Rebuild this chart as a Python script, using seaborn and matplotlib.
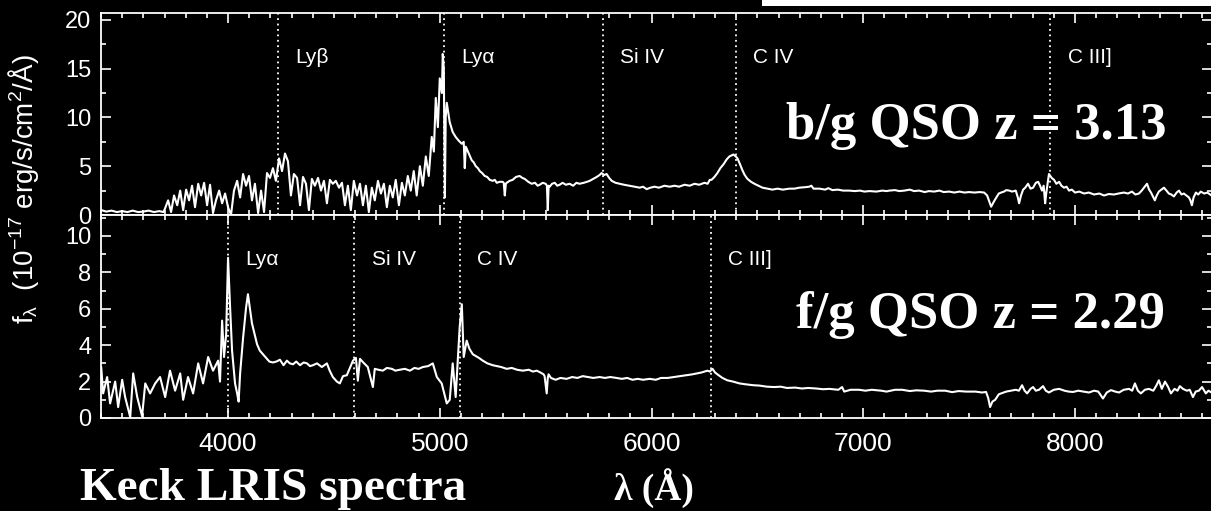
import pandas as pd
import seaborn as sns
import matplotlib.pyplot as plt
from matplotlib.patches import Rectangle
from matplotlib.ticker import MultipleLocator

# Spectrum of the background QSO (z = 3.13)
top_wave = [3401, 3425, 3450, 3475, 3500, 3525, 3550, 3575, 3600, 3625,
            3650, 3675, 3695, 3703, 3717, 3731, 3745, 3760, 3774, 3788,
            3802, 3816, 3830, 3844, 3859, 3873, 3887, 3901, 3915, 3929,
            3943, 3958, 3972, 3986, 4000, 4014, 4028, 4043, 4057, 4071,
            4085, 4099, 4113, 4127, 4142, 4156, 4170, 4184, 4198, 4212,
            4226, 4241, 4255, 4269, 4283, 4297, 4311, 4326, 4340, 4354,
            4368, 4382, 4396, 4410, 4425, 4439, 4453, 4467, 4481, 4495,
            4509, 4524, 4538, 4552, 4566, 4580, 4594, 4609, 4623, 4637,
            4651, 4665, 4679, 4693, 4708, 4722, 4736, 4750, 4764, 4778,
            4792, 4807, 4821, 4835, 4849, 4863, 4877, 4891, 4906, 4920,
            4934, 4948, 4962, 4972, 4981, 4991, 5000, 5010, 5014, 5019,
            5024, 5028, 5033, 5047, 5061, 5075, 5090, 5104, 5113, 5118,
            5123, 5137, 5151, 5160, 5170, 5180, 5189, 5200, 5212, 5224,
            5236, 5250, 5260, 5269, 5283, 5297, 5302, 5307, 5312, 5316,
            5330, 5344, 5360, 5377, 5390, 5401, 5418, 5434, 5450, 5462,
            5472, 5486, 5500, 5506, 5510, 5514, 5519, 5530, 5543, 5555,
            5566, 5580, 5595, 5613, 5630, 5645, 5660, 5680, 5695, 5708,
            5725, 5741, 5755, 5764, 5776, 5788, 5800, 5812, 5830, 5849,
            5870, 5896, 5920, 5944, 5960, 5977, 5995, 6014, 6035, 6061,
            6085, 6109, 6130, 6156, 6180, 6203, 6225, 6250, 6265, 6275,
            6283, 6297, 6311, 6325, 6340, 6355, 6368, 6387, 6398, 6406,
            6418, 6429, 6440, 6453, 6470, 6486, 6505, 6524, 6548, 6571,
            6595, 6620, 6651, 6675, 6698, 6725, 6745, 6755, 6765, 6793,
            6820, 6835, 6854, 6880, 6905, 6934, 6960, 6985, 7005, 7030,
            7062, 7090, 7110, 7123, 7150, 7170, 7194, 7220, 7240, 7264,
            7290, 7310, 7335, 7360, 7380, 7406, 7430, 7455, 7477, 7500,
            7525, 7550, 7571, 7585, 7604, 7615, 7623, 7640, 7651, 7665,
            7675, 7690, 7703, 7720, 7730, 7736, 7745, 7755, 7765, 7778,
            7790, 7802, 7815, 7826, 7835, 7844, 7852, 7859, 7864, 7868,
            7877, 7890, 7901, 7912, 7925, 7936, 7948, 7960, 7972, 7985,
            8000, 8020, 8043, 8065, 8090, 8115, 8137, 8160, 8184, 8205,
            8231, 8250, 8269, 8285, 8302, 8315, 8326, 8340, 8350, 8359,
            8368, 8377, 8386, 8396, 8408, 8420, 8432, 8443, 8455, 8467,
            8480, 8491, 8503, 8514, 8526, 8538, 8545, 8552, 8560, 8571,
            8582, 8594, 8610, 8625, 8645]
top_flux = [0.5, 0.35, 0.45, 0.3, 0.4, 0.3, 0.45, 0.3, 0.35, 0.45,
            0.3, 0.4, 0.3, 0.7, 1.5, 0.3, 2.0, 1.0, 2.5, 0.5,
            2.6, 1.5, 3.0, 0.8, 3.2, 2.0, 3.3, 1.0, 3.1, 0.2,
            1.5, 2.5, 1.2, 2.2, 0.8, 0.0, 2.5, 3.5, 1.8, 4.2,
            3.0, 4.0, 1.5, 3.2, 0.2, 2.5, 0.3, 4.3, 3.8, 4.8,
            3.5, 5.8, 4.5, 6.3, 5.5, 2.0, 4.2, 3.8, 1.0, 3.9,
            3.2, 0.5, 3.7, 3.0, 3.8, 2.5, 3.5, 1.2, 3.6, 3.2,
            3.5, 2.8, 3.3, 1.0, 3.0, 0.5, 3.5, 2.0, 3.2, 1.0,
            3.0, 0.3, 2.8, 1.5, 3.5, 2.2, 3.2, 0.8, 3.0, 1.8,
            3.6, 1.0, 3.3, 2.0, 4.0, 2.5, 4.5, 2.0, 5.0, 3.0,
            6.0, 4.0, 8.0, 6.5, 12.0, 9.0, 14.0, 12.5, 16.5, 15.0,
            1.8, 10.0, 11.5, 9.5, 8.5, 8.0, 7.6, 7.3, 7.5, 4.8,
            7.0, 6.3, 5.6, 5.4, 5.0, 4.8, 4.5, 4.3, 4.0, 3.9,
            3.6, 3.5, 3.6, 3.3, 3.4, 3.4, 3.3, 2.0, 3.2, 3.3,
            3.5, 3.6, 3.9, 4.0, 3.8, 3.7, 3.4, 3.2, 3.3, 3.0,
            3.1, 3.3, 3.2, 3.0, 0.5, 3.0, 2.9, 3.2, 3.3, 3.0,
            3.1, 3.3, 3.1, 3.2, 3.0, 3.3, 3.2, 3.3, 3.4, 3.5,
            3.7, 3.9, 4.1, 4.3, 4.1, 4.2, 3.8, 3.5, 3.3, 3.2,
            3.1, 3.0, 2.9, 2.8, 2.9, 2.65, 2.8, 2.9, 2.8, 3.0,
            2.9, 3.0, 2.9, 3.1, 3.0, 3.2, 3.1, 3.3, 3.2, 3.6,
            3.6, 3.9, 4.3, 4.8, 5.2, 5.7, 6.0, 6.2, 6.0, 5.8,
            5.2, 4.6, 4.1, 3.7, 3.4, 3.2, 3.0, 2.8, 2.7, 2.6,
            2.7, 2.6, 2.7, 2.7, 2.8, 2.85, 2.9, 3.0, 2.7, 2.7,
            2.6, 2.75, 2.55, 2.6, 2.5, 2.5, 2.45, 2.5, 2.4, 2.45,
            2.4, 2.5, 2.45, 2.5, 2.55, 2.45, 2.5, 2.6, 2.45, 2.5,
            2.35, 2.45, 2.4, 2.5, 2.35, 2.4, 2.3, 2.4, 2.3, 2.35,
            2.3, 2.35, 2.3, 2.0, 0.85, 1.3, 1.6, 2.2, 2.3, 2.4,
            2.55, 2.5, 2.4, 2.5, 1.8, 1.2, 2.0, 2.6, 2.8, 3.2,
            2.7, 2.8, 3.3, 3.4, 3.0, 2.5, 3.0, 1.2, 2.2, 2.8,
            4.2, 3.8, 3.6, 3.2, 3.4, 3.0, 2.8, 2.9, 2.5, 2.6,
            2.3, 2.4, 2.2, 2.3, 2.1, 2.2, 2.0, 2.15, 2.1, 2.2,
            2.3, 2.2, 2.4, 2.1, 2.2, 2.5, 2.8, 3.2, 2.6, 2.3,
            1.9, 1.5, 2.0, 2.4, 2.6, 2.8, 2.5, 2.2, 2.1, 1.9,
            2.3, 2.5, 2.1, 2.2, 2.0, 1.8, 1.5, 1.0, 1.8, 2.3,
            2.1, 2.4, 2.2, 2.3, 2.0]

# Spectrum of the foreground QSO (z = 2.29)
bot_wave = [3401, 3410, 3429, 3443, 3467, 3481, 3500, 3514, 3538, 3552,
            3571, 3594, 3609, 3632, 3656, 3679, 3703, 3726, 3750, 3774,
            3788, 3811, 3835, 3859, 3882, 3906, 3929, 3953, 3962, 3972,
            3981, 3991, 4000, 4010, 4019, 4033, 4043, 4050, 4057, 4071,
            4085, 4094, 4113, 4137, 4150, 4165, 4180, 4195, 4212, 4228,
            4245, 4262, 4278, 4292, 4307, 4322, 4340, 4357, 4373, 4387,
            4401, 4420, 4443, 4455, 4467, 4480, 4495, 4514, 4528, 4543,
            4561, 4590, 4604, 4613, 4623, 4637, 4660, 4684, 4693, 4710,
            4731, 4750, 4774, 4790, 4811, 4835, 4859, 4880, 4900, 4920,
            4945, 4967, 4986, 5009, 5033, 5047, 5061, 5075, 5085, 5094,
            5104, 5113, 5127, 5140, 5156, 5170, 5185, 5203, 5225, 5250,
            5270, 5290, 5316, 5340, 5365, 5392, 5420, 5440, 5458, 5475,
            5490, 5495, 5505, 5510, 5514, 5525, 5547, 5570, 5599, 5625,
            5650, 5675, 5700, 5725, 5755, 5780, 5805, 5835, 5860, 5885,
            5910, 5935, 5960, 5991, 6020, 6045, 6076, 6105, 6133, 6160,
            6194, 6215, 6236, 6250, 6264, 6275, 6288, 6300, 6311, 6335,
            6358, 6385, 6415, 6445, 6481, 6510, 6545, 6580, 6610, 6640,
            6679, 6710, 6740, 6778, 6810, 6840, 6882, 6900, 6910, 6940,
            6981, 7010, 7040, 7085, 7110, 7150, 7184, 7220, 7250, 7288,
            7320, 7350, 7387, 7420, 7450, 7486, 7530, 7560, 7580, 7590,
            7599, 7610, 7623, 7640, 7651, 7675, 7698, 7720, 7735, 7750,
            7762, 7774, 7790, 7802, 7815, 7830, 7849, 7862, 7877, 7900,
            7925, 7950, 7970, 7991, 8015, 8040, 8066, 8090, 8110, 8132,
            8150, 8170, 8190, 8208, 8230, 8255, 8270, 8283, 8297, 8311,
            8330, 8349, 8370, 8385, 8396, 8410, 8425, 8440, 8453, 8470,
            8484, 8495, 8510, 8528, 8542, 8557, 8570, 8585, 8600, 8618,
            8630, 8645]
bot_flux = [2.8, 1.35, 2.25, 0.8, 2.0, 0.6, 2.1, 1.15, 0.05, 2.45,
            1.15, 0.1, 1.9, 1.35, 1.9, 2.25, 1.15, 2.6, 1.5, 2.45,
            1.0, 2.25, 1.35, 3.0, 1.9, 3.35, 2.6, 3.15, 2.0, 5.35,
            3.35, 4.6, 8.8, 6.0, 3.7, 1.9, 1.35, 0.9, 2.45, 4.4,
            6.05, 6.8, 5.2, 4.05, 3.7, 3.5, 3.3, 3.1, 3.05, 3.1,
            3.2, 2.9, 3.15, 3.0, 2.95, 3.1, 2.9, 3.05, 3.0, 2.85,
            2.9, 3.0, 2.8, 2.9, 3.0, 2.6, 2.25, 2.0, 1.9, 2.3,
            2.35, 3.15, 3.3, 2.05, 3.25, 3.07, 2.8, 1.7, 2.7, 2.65,
            2.6, 2.75, 2.7, 2.6, 2.65, 2.7, 2.6, 2.75, 2.7, 2.8,
            2.85, 3.0, 2.25, 1.9, 0.8, 1.0, 3.0, 1.15, 3.15, 5.0,
            6.25, 3.35, 4.25, 3.8, 3.5, 3.4, 3.3, 3.15, 3.0, 2.9,
            2.85, 2.8, 2.7, 2.75, 2.65, 2.6, 2.65, 2.55, 2.6, 2.5,
            2.4, 2.3, 1.35, 2.2, 2.4, 2.2, 2.1, 2.2, 2.15, 2.25,
            2.2, 2.3, 2.25, 2.2, 2.25, 2.2, 2.25, 2.2, 2.15, 2.2,
            2.1, 2.15, 2.1, 2.15, 2.1, 2.2, 2.2, 2.25, 2.3, 2.35,
            2.4, 2.45, 2.5, 2.55, 2.6, 2.55, 2.7, 2.5, 2.4, 2.2,
            2.07, 2.0, 1.9, 1.85, 1.8, 1.78, 1.72, 1.7, 1.72, 1.65,
            1.67, 1.62, 1.65, 1.62, 1.58, 1.6, 1.55, 1.7, 1.45, 1.55,
            1.55, 1.5, 1.55, 1.5, 1.45, 1.55, 1.55, 1.48, 1.52, 1.5,
            1.45, 1.5, 1.5, 1.42, 1.48, 1.45, 1.45, 1.4, 1.43, 1.1,
            0.6, 0.9, 1.0, 1.3, 1.35, 1.45, 1.5, 1.55, 1.5, 1.8,
            1.5, 1.35, 1.6, 1.7, 1.5, 1.55, 1.75, 1.5, 1.4, 1.55,
            1.6, 1.5, 1.45, 1.43, 1.5, 1.45, 1.4, 1.5, 1.45, 1.07,
            1.4, 1.53, 1.45, 1.4, 1.55, 1.6, 1.5, 1.9, 1.5, 1.35,
            1.55, 1.6, 1.5, 1.8, 2.07, 1.6, 2.0, 1.7, 1.35, 1.6,
            1.5, 1.75, 1.6, 1.5, 1.55, 1.15, 1.45, 1.5, 1.7, 1.35,
            1.5, 1.4]

# Emission lines (observed wavelength)
top_lines = ["Ly\u03b2", "Ly\u03b1", "Si IV", "C IV", "C III]"]
top_line_wave = [4236, 5021, 5770, 6397, 7884]
bot_lines = ["Ly\u03b1", "Si IV", "C IV", "C III]"]
bot_line_wave = [4000, 4596, 5096, 6281]

top_df = pd.DataFrame({"wave": top_wave, "flux": top_flux})
bot_df = pd.DataFrame({"wave": bot_wave, "flux": bot_flux})

sns.set_theme(style="ticks")
plt.rcParams["font.family"] = ["Liberation Sans", "DejaVu Sans"]
plt.rcParams["mathtext.fontset"] = "custom"
plt.rcParams["mathtext.rm"] = "Liberation Sans"
plt.rcParams["mathtext.it"] = "Liberation Sans"

W, H = 1211, 511
fig = plt.figure(figsize=(W / 100, H / 100), dpi=100, facecolor="black")
ax1 = fig.add_axes([101 / W, 1 - 215 / H, (1212 - 101) / W, (215 - 13) / H])
ax2 = fig.add_axes([101 / W, 1 - 418 / H, (1212 - 101) / W, (418 - 215) / H])

panels = [
    (ax1, top_df, top_lines, top_line_wave, (0, 20.7), 5, 2.5),
    (ax2, bot_df, bot_lines, bot_line_wave, (0, 11.15), 2, 1),
]
for ax, df, names, lw_pos, ylim, major, minor in panels:
    ax.set_facecolor("black")
    sns.lineplot(data=df, x="wave", y="flux", ax=ax, color="white",
                 linewidth=1.5, estimator=None, sort=False)
    for name, w in zip(names, lw_pos):
        ax.axvline(w, color="white", linewidth=1.3, linestyle=(0, (1, 2)))
        ax.annotate(name, xy=(w, 0.78), xycoords=("data", "axes fraction"),
                    xytext=(12.5, 0), textcoords="offset points",
                    ha="left", va="center", color="white", fontsize=15)
    ax.set_xlim(3400, 8647)
    ax.set_ylim(*ylim)
    ax.xaxis.set_major_locator(MultipleLocator(1000))
    ax.xaxis.set_minor_locator(MultipleLocator(100))
    ax.yaxis.set_major_locator(MultipleLocator(major))
    ax.yaxis.set_minor_locator(MultipleLocator(minor))
    ax.tick_params(which="both", direction="in", top=True, right=True,
                   color="white", width=1.2, labelcolor="white")
    ax.tick_params(which="major", length=7)
    ax.tick_params(which="minor", length=3.5)
    ax.tick_params(axis="y", labelsize=17, pad=7)
    ax.tick_params(axis="x", labelsize=19, pad=10)
    ax.set_xlabel("")
    ax.set_ylabel("")
    for spine in ax.spines.values():
        spine.set_color("white")
        spine.set_linewidth(1.3)
    ax.yaxis.get_major_ticks()[0].label1.set_verticalalignment("bottom")

ax1.tick_params(axis="x", labelbottom=False)

# Axis titles and annotations
fig.text(0.019, 1 - 189 / H,
         r"f$_\lambda$  (10$^{-17}$ erg/s/cm$^2$/Å)",
         rotation=90, ha="center", va="center", color="white", fontsize=20)

serif = ["Liberation Serif", "DejaVu Serif"]
fig.text(1167 / W, 1 - 139 / H, "b/g QSO z = 3.13", ha="right", va="baseline",
         color="white", fontsize=38, fontweight="bold", family=serif)
fig.text(1165 / W, 1 - 328 / H, "f/g QSO z = 2.29", ha="right", va="baseline",
         color="white", fontsize=38, fontweight="bold", family=serif)
fig.text(80 / W, 1 - 500 / H, "Keck LRIS spectra", ha="left", va="baseline",
         color="white", fontsize=34, fontweight="bold", family=serif)
fig.text(654 / W, 1 - 488 / H, "\u03bb (Å)", ha="center", va="center",
         color="white", fontsize=27, fontweight="bold", family=serif)

# White strip along the top right edge
fig.add_artist(Rectangle((762 / W, 1 - 6 / H), (W - 762) / W, 6 / H,
                         transform=fig.transFigure, color="white", lw=0))

fig.savefig("out.png", dpi=100, facecolor="black")
